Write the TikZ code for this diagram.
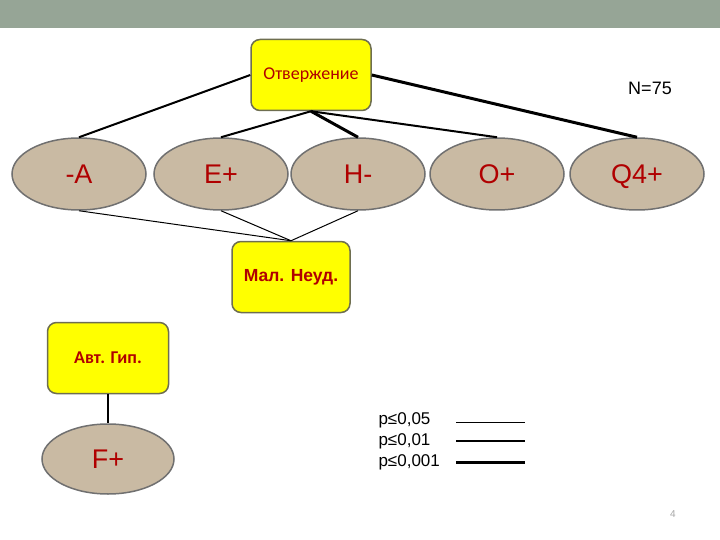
\documentclass[tikz,border=0pt]{standalone}
\usepackage{fontspec}
\setmainfont{Liberation Sans}
\newfontfamily\carlfont{Carlito}
\usetikzlibrary{shapes.geometric}
\definecolor{bandgray}{RGB}{150,165,150}
\definecolor{boxyellow}{RGB}{255,255,0}
\definecolor{boxedge}{RGB}{110,110,80}
\definecolor{ovaltan}{RGB}{201,186,163}
\definecolor{ovaledge}{RGB}{112,112,112}
\definecolor{labelred}{RGB}{176,0,0}
\tikzset{
  factorbox/.style={draw=boxedge, line width=1.5pt, fill=boxyellow, rounded corners=9pt,
    minimum width=120pt, minimum height=71pt, text=labelred},
  factoroval/.style={ellipse, draw=ovaledge, line width=1.5pt, fill=ovaltan,
    minimum width=134pt, minimum height=72pt, text=labelred, inner sep=0pt,
    text height=19pt, text depth=0pt, font=\fontsize{27}{32}\selectfont},
  weak/.style={line width=1pt},
  mid/.style={line width=2pt},
  strong/.style={line width=3pt}
}
\begin{document}
\begin{tikzpicture}[x=1pt,y=-1pt]
    \useasboundingbox (0,0) rectangle (720,540);
    \fill[bandgray] (0,0) rectangle (720,28);

    % Factors
    \node[factorbox, font=\carlfont\fontsize{18}{21}\selectfont] (otv) at (311,75) {Отвержение};
    \node[factoroval] (a) at (79,174) {-A};
    \node[factoroval] (e) at (221,174) {E+};
    \node[factoroval] (h) at (358,174) {H-};
    \node[factoroval] (o) at (497,174) {O+};
    \node[factoroval] (q) at (637,174) {Q4+};
    \node[factorbox, minimum width=118pt, font=\bfseries\fontsize{17.5}{20}\selectfont] (mal) at (291,277) {Мал. Неуд.};
    \node[factorbox, minimum width=121pt, font=\carlfont\bfseries\fontsize{18}{21}\selectfont] (avt) at (108,358) {Авт. Гип.};
    \node[factoroval, minimum width=132pt, minimum height=70pt] (f) at (108,459) {F+};
    \node[font=\fontsize{18}{21}\selectfont] (n) at (650,88) {N=75};

    % Links
    \draw[mid] (otv.west) -- (a.north);
    \draw[mid] (otv.south) -- (e.north);
    \draw[strong] (otv.south) -- (h.north);
    \draw[mid] (otv.south) -- (o.north);
    \draw[strong] (otv.east) -- (q.north);
    \draw[weak] (a.south) -- (mal.north);
    \draw[weak] (e.south) -- (mal.north);
    \draw[weak] (h.south) -- (mal.north);
    \draw[mid] (avt.south) -- (f.north);

    % Legend
    \node[anchor=west, font=\fontsize{17}{20}\selectfont] (p1) at (375,420) {p≤0,05};
    \node[anchor=west, font=\fontsize{17}{20}\selectfont] (p2) at (375,441) {p≤0,01};
    \node[anchor=west, font=\fontsize{17}{20}\selectfont] (p3) at (375,462) {p≤0,001};
    \coordinate (l1a) at (456,422); \coordinate (l1b) at (525,422);
    \coordinate (l2a) at (456,441); \coordinate (l2b) at (525,441);
    \coordinate (l3a) at (456,462); \coordinate (l3b) at (525,462);
    \draw[weak] (l1a) -- (l1b);
    \draw[mid] (l2a) -- (l2b);
    \draw[strong] (l3a) -- (l3b);

    \node[text=gray!70, font=\fontsize{10}{12}\selectfont] (pg) at (673,514) {4};
\end{tikzpicture}
\end{document}
